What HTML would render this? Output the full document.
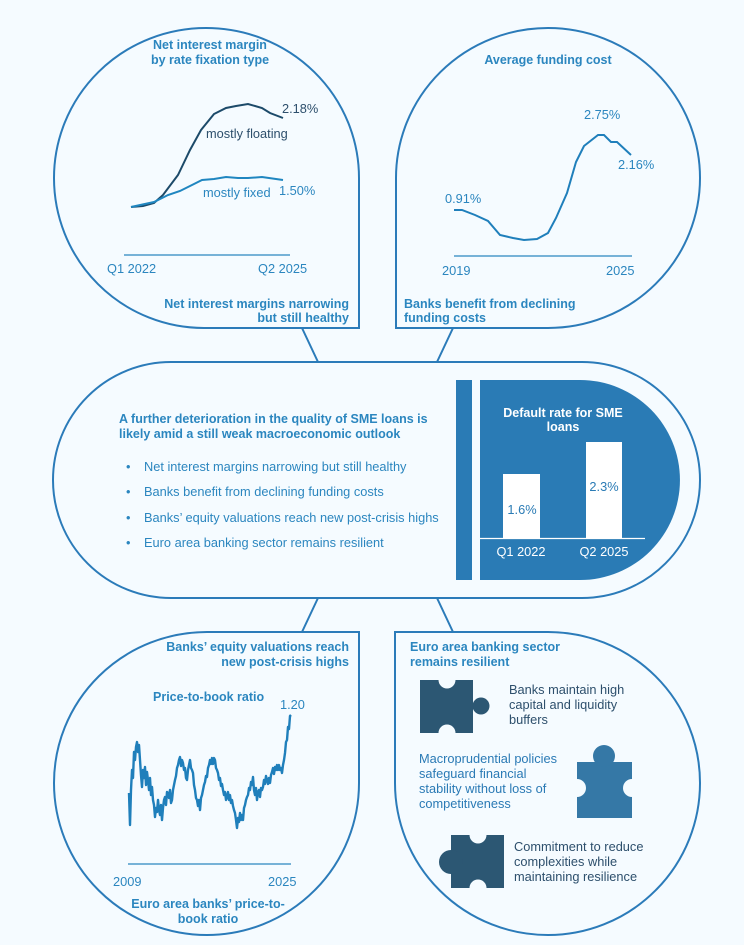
<!DOCTYPE html>
<html><head><meta charset="utf-8"><style>
html,body{margin:0;padding:0;background:#f5fbff;}
svg{display:block;font-family:"Liberation Sans",Arial,sans-serif;}
.t{font-weight:bold;font-size:12.5px;fill:#2b86bf;}
.n{font-size:12.8px;fill:#2b86bf;}
.d{font-size:12.8px;fill:#2d4f6c;}
.m{font-size:12.8px;fill:#2a7ab5;}
</style></head><body>
<svg width="744" height="945" viewBox="0 0 744 945" xmlns="http://www.w3.org/2000/svg">
<rect width="744" height="945" fill="#f5fbff"/>
<g fill="none" stroke="#2b7bb9" stroke-width="2">
<path d="M359,328 L204,328 A150,150 0 0 1 54,178 A152,150 0 0 1 206,28 A153,150 0 0 1 359,178 Z"/>
<path d="M396,328 L396,178 A152,150 0 0 1 548,28 A152,150 0 0 1 700,178 A152,150 0 0 1 548,328 Z"/>
<path d="M302,328 L318,362 M453,328 L437,362 M318,598 L302,632 M437,598 L453,632"/>
<path d="M171,362 L582,362 A118,118 0 0 1 582,598 L171,598 A118,118 0 0 1 171,362 Z"/>
<path d="M359,632 L359,783 A152,152 0 0 1 207,935 A153,152 0 0 1 54,783 A153,151 0 0 1 207,632 Z"/>
<path d="M395,632 L548,632 A152,151 0 0 1 700,783 A152,152 0 0 1 548,935 A153,152 0 0 1 395,783 Z"/>
</g>

<text class="t" x="210" y="49" text-anchor="middle">Net interest margin</text>
<text class="t" x="210" y="64" text-anchor="middle">by rate fixation type</text>
<line x1="124" y1="255" x2="290" y2="255" stroke="#2b86bf" stroke-width="1.2"/>
<text class="n" x="107" y="273">Q1 2022</text>
<text class="n" x="258" y="273">Q2 2025</text>
<polyline fill="none" stroke="#1c4a69" stroke-width="2" points="131,207 143,206 154,203 163,195 178,175 190,150 201,130 214,114 226,108 236,106 248,104 262,108 270,113 283,118"/>
<polyline fill="none" stroke="#1f86c0" stroke-width="2" points="131,207 154,202 168,195 180,191 192,185 202,180 214,179 226,177 238,178 248,178 262,177 283,180"/>
<text class="d" x="282" y="113">2.18%</text>
<text class="d" x="206" y="138">mostly floating</text>
<text class="n" x="203" y="197">mostly fixed</text>
<text class="n" x="279" y="195">1.50%</text>
<text class="t" x="349" y="308" text-anchor="end">Net interest margins narrowing</text>
<text class="t" x="349" y="322" text-anchor="end">but still healthy</text>

<text class="t" x="548" y="64" text-anchor="middle">Average funding cost</text>
<line x1="454" y1="256" x2="632" y2="256" stroke="#2b86bf" stroke-width="1.2"/>
<text class="n" x="442" y="275">2019</text>
<text class="n" x="606" y="275">2025</text>
<polyline fill="none" stroke="#1f7fbb" stroke-width="2" points="454,210 462,210 475,215 488,221 500,235 513,238 524,240 537,239 548,233 556,218 567,193 576,162 584,146 598,135 604,135 611,142 617,142 631,155"/>
<text class="n" x="445" y="203">0.91%</text>
<text class="n" x="584" y="119">2.75%</text>
<text class="n" x="618" y="169">2.16%</text>
<text class="t" x="404" y="308">Banks benefit from declining</text>
<text class="t" x="404" y="322">funding costs</text>

<text class="t" x="119" y="423">A further deterioration in the quality of SME loans is</text>
<text class="t" x="119" y="438">likely amid a still weak macroeconomic outlook</text>
<text class="n" x="126" y="471">•</text><text class="n" x="144" y="471">Net interest margins narrowing but still healthy</text>
<text class="n" x="126" y="496">•</text><text class="n" x="144" y="496">Banks benefit from declining funding costs</text>
<text class="n" x="126" y="522">•</text><text class="n" x="144" y="522">Banks’ equity valuations reach new post-crisis highs</text>
<text class="n" x="126" y="547">•</text><text class="n" x="144" y="547">Euro area banking sector remains resilient</text>
<rect x="456" y="380" width="16" height="200" fill="#2a7bb5"/>
<path d="M480,380 L580,380 A100,100 0 0 1 580,580 L480,580 Z" fill="#2a7bb5"/>
<text x="563" y="417" text-anchor="middle" font-weight="bold" font-size="12.5" fill="#fff">Default rate for SME</text>
<text x="563" y="431" text-anchor="middle" font-weight="bold" font-size="12.5" fill="#fff">loans</text>
<rect x="503" y="474" width="37" height="64" fill="#fff"/>
<rect x="586" y="442" width="36" height="96" fill="#fff"/>
<line x1="480" y1="538.5" x2="645" y2="538.5" stroke="#fff" stroke-width="1.2"/>
<text x="522" y="514" text-anchor="middle" font-size="12.8" fill="#2a7bb5">1.6%</text>
<text x="604" y="491" text-anchor="middle" font-size="12.8" fill="#2a7bb5">2.3%</text>
<text x="521" y="556" text-anchor="middle" font-size="12.8" fill="#fff">Q1 2022</text>
<text x="604" y="556" text-anchor="middle" font-size="12.8" fill="#fff">Q2 2025</text>

<text class="t" x="349" y="651" text-anchor="end">Banks’ equity valuations reach</text>
<text class="t" x="349" y="666" text-anchor="end">new post-crisis highs</text>
<text class="t" x="153" y="701">Price-to-book ratio</text>
<text class="n" x="280" y="709">1.20</text>
<line x1="128" y1="864" x2="291" y2="864" stroke="#2b86bf" stroke-width="1.2"/>
<text class="n" x="113" y="886">2009</text>
<text class="n" x="268" y="886">2025</text>
<polyline fill="none" stroke="#1f7fbb" stroke-width="2.4" stroke-linejoin="round" points="129,793 130,825 131,790 132,770 133,778 134,752 135,760 136,747 137,742 138,752 139,745 140,760 141,775 142,787 143,770 144,778 145,767 146,785 147,772 148,780 149,790 150,778 151,795 152,787 153,800 154,805 155,817 156,808 157,812 158,800 159,810 160,815 161,805 162,820 163,808 164,800 165,797 166,805 167,792 168,793 169,798 170,790 171,803 172,800 173,790 174,785 175,780 176,776 177,768 178,765 179,760 180,757 181,766 182,760 183,763 184,770 185,768 186,778 187,780 188,770 189,765 190,760 191,768 192,770 193,773 194,785 195,790 196,798 197,800 198,806 199,800 200,810 201,798 202,795 203,790 204,785 205,782 206,776 207,777 208,768 209,765 210,760 211,764 212,758 213,764 214,758 215,760 216,768 217,770 218,773 219,780 220,778 221,786 222,784 223,790 224,795 225,792 226,800 227,797 228,792 229,800 230,795 231,803 232,800 233,806 234,810 235,813 236,820 237,828 238,818 239,822 240,813 241,820 242,815 243,820 244,808 245,805 246,800 247,797 248,795 249,788 250,790 251,782 252,785 253,777 254,790 255,795 256,788 257,800 258,792 259,790 260,797 261,788 262,790 263,787 264,780 265,784 266,776 267,780 268,784 269,778 270,783 271,775 272,772 273,768 274,774 275,767 276,770 277,765 278,770 279,765 280,770 281,768 282,773 283,765 284,760 285,753 286,742 287,740 288,727 289,729 290,716 291,715"/>
<text class="t" x="208" y="908" text-anchor="middle">Euro area banks’ price-to-</text>
<text class="t" x="208" y="923" text-anchor="middle">book ratio</text>

<text class="t" x="410" y="651">Euro area banking sector</text>
<text class="t" x="410" y="666">remains resilient</text>
<rect x="420" y="680" width="53" height="53" fill="#2c5773"/>
<circle cx="481" cy="706" r="8.5" fill="#2c5773"/>
<circle cx="447" cy="680" r="8.5" fill="#f5fbff"/>
<circle cx="447" cy="733" r="8.5" fill="#f5fbff"/>
<text class="d" x="509" y="694">Banks maintain high</text>
<text class="d" x="509" y="709">capital and liquidity</text>
<text class="d" x="509" y="724">buffers</text>
<text class="m" x="419" y="763">Macroprudential policies</text>
<text class="m" x="419" y="778">safeguard financial</text>
<text class="m" x="419" y="793">stability without loss of</text>
<text class="m" x="419" y="808">competitiveness</text>
<rect x="577" y="762" width="55" height="56" fill="#3578a6"/>
<circle cx="604" cy="756" r="11" fill="#3578a6"/>
<circle cx="577" cy="788" r="9" fill="#f5fbff"/>
<circle cx="632" cy="788" r="9" fill="#f5fbff"/>
<rect x="451" y="835" width="53" height="53" fill="#2c5773"/>
<circle cx="451" cy="862" r="12" fill="#2c5773"/>
<circle cx="478" cy="835" r="8.5" fill="#f5fbff"/>
<circle cx="478" cy="888" r="8.5" fill="#f5fbff"/>
<text class="d" x="514" y="851">Commitment to reduce</text>
<text class="d" x="514" y="866">complexities while</text>
<text class="d" x="514" y="881">maintaining resilience</text>
</svg>
</body></html>
